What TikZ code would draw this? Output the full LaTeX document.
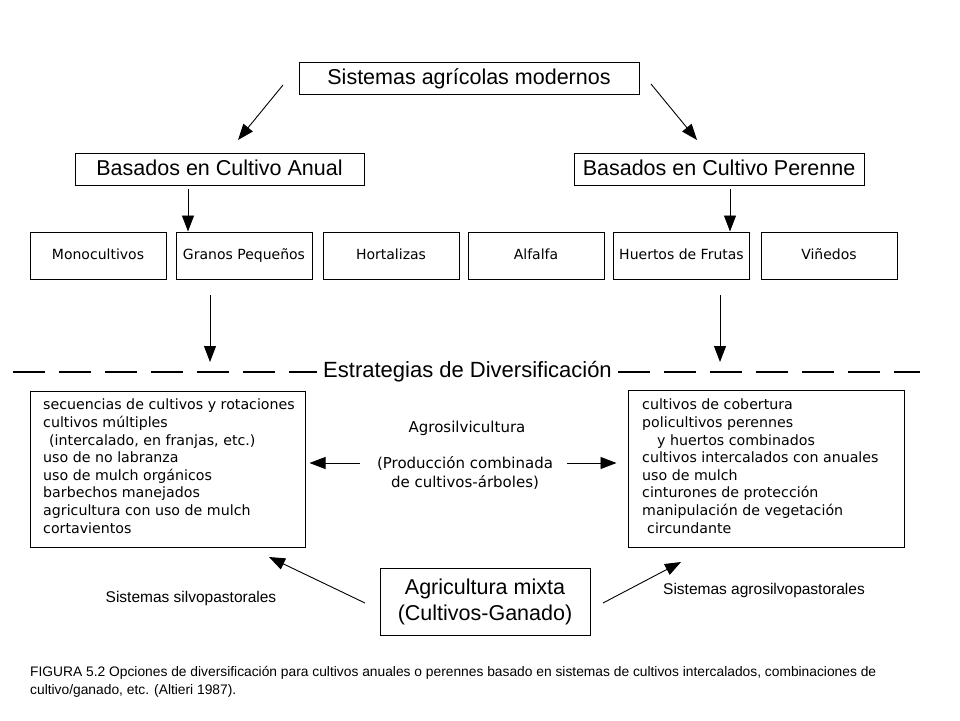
\documentclass[tikz,border=0pt]{standalone}
\usepackage{fontspec}
\setmainfont{Liberation Sans}
\newfontfamily\djv{DejaVu Sans}
\usetikzlibrary{arrows.meta}
\begin{document}
\begin{tikzpicture}[x=1pt,y=-1pt,
  box/.style={draw, line width=1pt, inner sep=0pt},
  headbox/.style={box, minimum height=32pt, text height=15.5pt, text depth=3pt, font=\fontsize{21.5}{24}\selectfont},
  cropbox/.style={box, minimum width=136pt, minimum height=47pt, text height=10.5pt, text depth=3pt, font=\djv\fontsize{14}{17}\selectfont},
  arr/.style={line width=0.9pt, -{Triangle[length=16pt,width=12pt]}},
  dline/.style={line width=1.1pt, dash pattern=on 32pt off 14pt},
  lst/.style={align=left, inner sep=0pt, anchor=north west, font=\djv\fontsize{14.2}{17.6}\selectfont},
  ctext/.style={font=\djv\fontsize{15}{19}\selectfont, align=center},
  side/.style={font=\fontsize{15.5}{18}\selectfont},
]
\useasboundingbox (0,0) rectangle (960,720);
\fill[white] (0,0) rectangle (960,720);

% top level
\node[headbox, minimum width=340pt] (top) at (469,78) {Sistemas agrícolas modernos};
\node[headbox, minimum width=289pt] (anual) at (219.5,169.5) {Basados en Cultivo Anual};
\node[headbox, minimum width=290pt] (perenne) at (719,169.5) {Basados en Cultivo Perenne};

\coordinate (t1) at (283,85);
\coordinate (t1e) at (238,140);
\coordinate (t2) at (651,84);
\coordinate (t2e) at (697,140);
\draw[arr] (t1) -- (t1e);
\draw[arr] (t2) -- (t2e);

% crop row
\node[cropbox] (mono) at (98,255.5) {Monocultivos};
\node[cropbox] (granos) at (244,255.5) {Granos Pequeños};
\node[cropbox] (hort) at (391,255.5) {Hortalizas};
\node[cropbox] (alf) at (536,255.5) {Alfalfa};
\node[cropbox] (huertos) at (681.5,255.5) {Huertos de Frutas};
\node[cropbox] (vin) at (829,255.5) {Viñedos};

\coordinate (a1) at (188,189);
\coordinate (a2) at (730,189);
\draw[arr] (a1) -- (granos.north -| a1);
\draw[arr] (a2) -- (huertos.north -| a2);

% diversification line
\node[font=\fontsize{22}{24}\selectfont, inner xsep=6pt] (estr) at (467.5,372) {Estrategias de Diversificación};
\coordinate (dl) at (13,372);
\coordinate (dr) at (920,372);
\draw[dline] (dl) -- (estr.west);
\draw[dline] (estr.east) -- (dr);

\coordinate (g1) at (210,295);
\coordinate (g1e) at (210,362);
\coordinate (h1) at (720,295);
\coordinate (h1e) at (720,362);
\draw[arr] (g1) -- (g1e);
\draw[arr] (h1) -- (h1e);

% strategy boxes
\node[box, minimum width=275pt, minimum height=156pt] (lbox) at (167.5,469) {};
\node[box, minimum width=276pt, minimum height=157pt] (rbox) at (766,468.5) {};
\node[lst] (ltxt) at (43,399) {secuencias de cultivos y rotaciones\\
cultivos múltiples\\
\hspace*{6pt}(intercalado, en franjas, etc.)\\
uso de no labranza\\
uso de mulch orgánicos\\
barbechos manejados\\
agricultura con uso de mulch\\
cortavientos};
\node[lst] (rtxt) at (642,399) {cultivos de cobertura\\
policultivos perennes\\
\hspace*{15pt}y huertos combinados\\
cultivos intercalados con anuales\\
uso de mulch\\
cinturones de protección\\
manipulación de vegetación\\
\hspace*{5pt}circundante};

% agrosilvicultura
\node[ctext] (agro) at (467,428) {Agrosilvicultura};
\node[ctext] (prod) at (465,472.5) {(Producción combinada\\de cultivos-árboles)};
\coordinate (pl) at (360,463);
\coordinate (pr) at (567,463);
\draw[arr, shorten >=4pt] (pl) -- (lbox.east |- pl);
\draw[arr, shorten >=11pt] (pr) -- (rbox.west |- pr);

% mixed agriculture
\node[box, minimum width=210pt, minimum height=67pt, align=center, font=\fontsize{21.5}{26}\selectfont] (mixta) at (485,601.5) {Agricultura mixta\\(Cultivos-Ganado)};
\coordinate (ml) at (365,603);
\coordinate (sl) at (269,557);
\coordinate (mr) at (603,603);
\coordinate (sr) at (681,562);
\draw[arr] (ml) -- (sl);
\draw[arr] (mr) -- (sr);
\node[side] (silvo) at (191,598) {Sistemas silvopastorales};
\node[side] (agrosilvo) at (764,590) {Sistemas agrosilvopastorales};

% caption
\node[anchor=north west, align=left, inner sep=0pt, font=\fontsize{13.8}{18}\selectfont] (cap) at (30,666) {FIGURA 5.2 Opciones de diversificación para cultivos anuales o perennes basado en sistemas de cultivos intercalados, combinaciones de\\
cultivo/ganado, etc. (Altieri 1987).};
\end{tikzpicture}
\end{document}
